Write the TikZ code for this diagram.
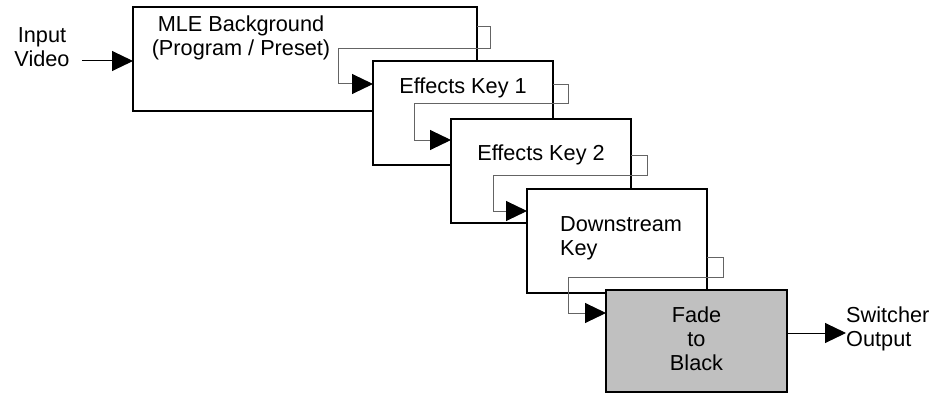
\documentclass[tikz,border=0pt]{standalone}
\usepackage{fontspec}
\setmainfont{Liberation Sans}
\usetikzlibrary{arrows.meta}
\definecolor{fadegray}{RGB}{192,192,192}
\definecolor{feedgray}{RGB}{100,100,100}
\begin{document}
\begin{tikzpicture}[x=1pt,y=-1pt,
  stage/.style={draw=black,line width=2pt,fill=white,minimum width=180,minimum height=104,inner sep=0pt,outer sep=0pt},
  lbl/.style={font=\fontsize{21.7}{24}\selectfont,inner sep=0pt,align=center},
  tip/.style={-{Triangle[length=21pt,width=20pt,color=black]}},
  feed/.style={tip,draw=feedgray,line width=1pt},
  io/.style={tip,draw=black,line width=1pt}]
\useasboundingbox (0,0) rectangle (933,393);

% Input
\node[lbl] (in) at (42,47) {Input\\Video};

% MLE background stage
\node[stage,minimum width=344] (b1) at (305,59) {};
\node[lbl] (t1) at (241,38) {MLE Background\\(Program / Preset)};
\draw[io] ([xshift=12pt]in.east |- 0,61) -- (b1.west |- 0,61);
\draw[feed] (b1.east |- 0,27) -- (490,27) -- (490,49) -- (338,49) -- (338,84) -- (373,84);

% Effects key 1
\node[stage] (b2) at (463,113) {};
\node[lbl] (t2) at (463,88) {Effects Key 1};
\draw[feed] (b2.east |- 0,85) -- (568,85) -- (568,104) -- (414,104) -- (414,140) -- (451,140);

% Effects key 2
\node[stage] (b3) at (541,171) {};
\node[lbl] (t3) at (541,155) {Effects Key 2};
\draw[feed] (b3.east |- 0,155) -- (647,155) -- (647,175) -- (493,175) -- (493,211) -- (527,211);

% Downstream key
\node[stage] (b4) at (617,240.5) {};
\node[lbl,align=left,anchor=west] (t4) at (560,238.5) {Downstream\\Key};
\draw[feed] (b4.east |- 0,257) -- (723,257) -- (723,277) -- (568,277) -- (568,313) -- (606,313);

% Fade to black
\node[stage,fill=fadegray,minimum width=181,minimum height=102] (b5) at (696.5,341) {};
\node[lbl] (t5) at (696.5,339) {Fade\\to\\Black};

% Output
\node[lbl,align=left,anchor=west] (out) at (846,328.5) {Switcher\\Output};
\draw[io] (b5.east |- 0,333) -- (out.west |- 0,333);
\end{tikzpicture}
\end{document}
